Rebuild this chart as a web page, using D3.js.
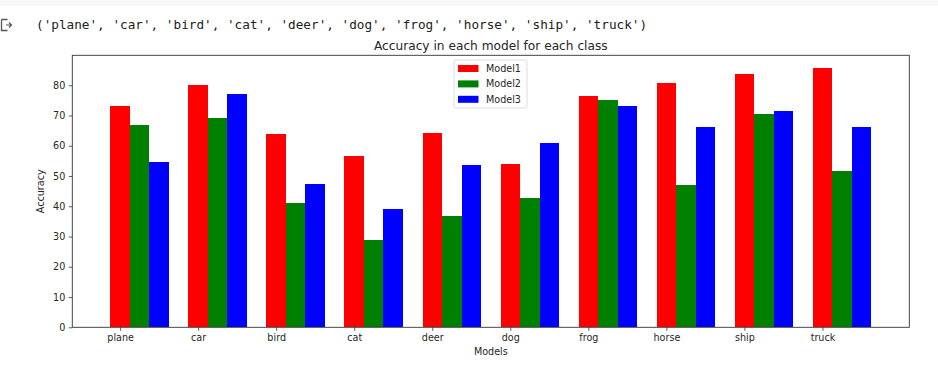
<!DOCTYPE html>
<html><head><meta charset="utf-8">
<script src="https://cdn.jsdelivr.net/npm/d3@7"></script>
<style>
body{margin:0;background:#fff;}
svg text{font-family:"DejaVu Sans",sans-serif;fill:#262626;}
</style></head><body>
<svg id="c" width="938" height="384"></svg>
<script>
const classes = ['plane','car','bird','cat','deer','dog','frog','horse','ship','truck'];
const model1 = [73.2,80.1,63.9,56.6,64.2,54.0,76.5,80.8,83.7,85.7];
const model2 = [66.8,69.2,41.1,28.9,36.8,42.7,75.2,47.0,70.5,51.7];
const model3 = [54.5,77.1,47.4,39.1,53.7,60.9,73.2,66.3,71.5,66.3];
const seriesNames = ['Model1','Model2','Model3'];
const seriesColors = ['#ff0000','#008000','#0000ff'];
const yTicks = [0,10,20,30,40,50,60,70,80];
const headerText = "('plane', 'car', 'bird', 'cat', 'deer', 'dog', 'frog', 'horse', 'ship', 'truck')";

const svg = d3.select('#c');
// notebook chrome
svg.append('rect').attr('x',0).attr('y',0).attr('width',938).attr('height',6).attr('fill','#f7f7f7');
svg.append('path').attr('d','M1.5,19.5 H7.5 M1.5,19.5 V30.5 H7.5').attr('fill','none').attr('stroke','#555').attr('stroke-width',1.3);
svg.append('path').attr('d','M6,25 H11 M9,22.5 L11.5,25 L9,27.5').attr('fill','none').attr('stroke','#555').attr('stroke-width',1.2);
svg.append('text').attr('x',36).attr('y',29).text(headerText)
  .style('font-family','"DejaVu Sans Mono",monospace').style('font-size','12.7px').style('fill','#212121');

const L=72.3, R=909.3, T=55.3, B=327.3;
const w = 0.25;
const x = d3.scaleLinear().domain([-0.6125, 10.1125]).range([L,R]);
const y = d3.scaleLinear().domain([0, 89.9]).range([B,T]);
const series = [model1, model2, model3];

const g = svg.append('g').attr('shape-rendering','crispEdges');
series.forEach((vals,si)=>{
  g.selectAll(null).data(vals).enter().append('rect')
    .attr('x',(d,i)=>x(i+si*w-w/2))
    .attr('width',(d,i)=>x(i+si*w+w/2)-x(i+si*w-w/2))
    .attr('y',d=>y(d)).attr('height',d=>B-y(d))
    .attr('fill',seriesColors[si]);
});

// axes
const yAxis = d3.axisLeft(y).tickValues(yTicks).tickSize(3.5).tickPadding(3.5);
const ya = svg.append('g').attr('transform',`translate(${L},0)`).call(yAxis);
const xAxis = d3.axisBottom(x).tickValues(d3.range(classes.length)).tickFormat(i=>classes[i]).tickSize(3.5).tickPadding(3.5);
const xa = svg.append('g').attr('transform',`translate(0,${B})`).call(xAxis);
[ya,xa].forEach(a=>{
  a.select('.domain').remove();
  a.selectAll('line').attr('stroke','#333').attr('stroke-width',0.8);
  a.selectAll('text').style('font-size','9.6px').style('font-family','"DejaVu Sans",sans-serif').attr('fill','#262626');
});
svg.append('rect').attr('x',L).attr('y',T).attr('width',R-L).attr('height',B-T)
  .attr('fill','none').attr('stroke','#333').attr('stroke-width',0.9);

// labels
svg.append('text').attr('x',(L+R)/2).attr('y',49.8).attr('text-anchor','middle').style('font-size','12.2px').text('Accuracy in each model for each class');
svg.append('text').attr('x',(L+R)/2).attr('y',355).attr('text-anchor','middle').style('font-size','9.6px').text('Models');
svg.append('text').attr('transform',`translate(44,${(T+B)/2}) rotate(-90)`).attr('text-anchor','middle').style('font-size','9.6px').text('Accuracy');

// legend
const lg = svg.append('g').attr('transform','translate(454,60)');
lg.append('rect').attr('x',0).attr('y',0).attr('width',73).attr('height',48).attr('rx',2)
  .attr('fill','#fff').attr('stroke','#d9d9d9').attr('stroke-width',0.9);
seriesNames.forEach((n,i)=>{
  lg.append('rect').attr('x',4).attr('y',5+i*15.4).attr('width',20.5).attr('height',7).attr('fill',seriesColors[i]);
  lg.append('text').attr('x',32).attr('y',12+i*15.4).style('font-size','9.6px').text(n);
});
</script>
</body></html>
